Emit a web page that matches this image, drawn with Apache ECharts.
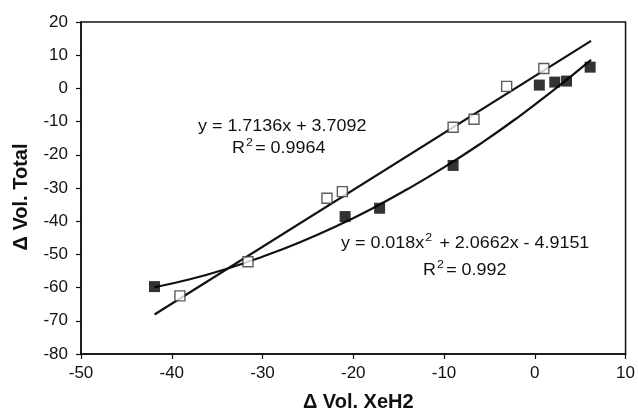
<!DOCTYPE html>
<html><head><meta charset="utf-8">
<script src="https://cdn.jsdelivr.net/npm/echarts@6/dist/echarts.min.js"></script>
<style>html,body{margin:0;padding:0;background:#fff}#c{width:638px;height:417px}</style>
</head><body><div id="c"></div>
<script>
// Open squares series
const openX = [-39.1, -31.6, -22.9, -21.2, -9.0, -6.7, -3.1, 1.0];
const openY = [-62.5, -52.2, -33.1, -31.1, -11.7, -9.3, 0.6, 6.0];
// Filled squares series
const filledX = [-41.9, -20.9, -17.1, -9.0, 0.5, 2.2, 3.5, 6.1];
const filledY = [-59.7, -38.6, -36.1, -23.2, 1.0, 1.9, 2.2, 6.4];
// Linear trendline (endpoints as drawn)
const linX = [-41.9, 6.2];
const linY = [-68.1, 14.3];
// Polynomial trendline
const polyX = [-41.9, -38, -34, -30, -26, -22, -18, -14, -10, -6, -2, 2, 6.2];
const polyY = [-59.9, -57.5, -54.4, -50.7, -46.5, -41.7, -36.3, -30.3, -23.8, -16.7, -9.0, -0.7, 8.6];
// Axis ticks
const xTicks = [-50, -40, -30, -20, -10, 0, 10];
const yTicks = [-80, -70, -60, -50, -40, -30, -20, -10, 0, 10, 20];

const zip = (a, b) => a.map((v, i) => [v, b[i]]);
const font = '"Liberation Sans", Arial, sans-serif';
const rich = {
  n: {font: '16px ' + font, fill: '#111', lineHeight: 20, verticalAlign: 'bottom'},
  s: {font: '11px ' + font, fill: '#111', lineHeight: 20, verticalAlign: 'top', padding: [0, 2, 0, 1]}
};
const chart = echarts.init(document.getElementById('c'), null, {renderer: 'canvas'});
chart.setOption({
  animation: false,
  backgroundColor: '#fff',
  grid: {left: 81, top: 22, right: 8, bottom: 60, show: true, borderColor: '#111', borderWidth: 1.5, backgroundColor: 'transparent'},
  xAxis: {
    type: 'value', min: xTicks[0], max: xTicks[xTicks.length - 1], interval: 10,
    name: '\u0394 Vol. XeH2', nameLocation: 'middle', nameGap: 38,
    nameTextStyle: {fontFamily: font, fontWeight: 'bold', fontSize: 20, color: '#111', padding: [0, 0, 0, 10]},
    axisLine: {onZero: false, lineStyle: {color: '#111', width: 1.5}},
    axisTick: {show: true, length: 5, lineStyle: {color: '#111', width: 1.2}},
    axisLabel: {fontFamily: font, fontSize: 17, color: '#111', margin: 11},
    splitLine: {show: false}
  },
  yAxis: {
    type: 'value', min: yTicks[0], max: yTicks[yTicks.length - 1], interval: 10,
    name: '\u0394 Vol. Total', nameLocation: 'middle', nameGap: 50,
    nameTextStyle: {fontFamily: font, fontWeight: 'bold', fontSize: 20, color: '#111', padding: [0, 18, 0, 0]},
    axisLine: {onZero: false, lineStyle: {color: '#111', width: 1.5}},
    axisTick: {show: true, length: 5, lineStyle: {color: '#111', width: 1.2}},
    axisLabel: {fontFamily: font, fontSize: 17, color: '#111', margin: 13},
    splitLine: {show: false}
  },
  series: [
    {type: 'line', data: zip(linX, linY), showSymbol: false, symbol: 'none', lineStyle: {color: '#111', width: 2.2}, z: 2},
    {type: 'line', data: zip(polyX, polyY), smooth: true, showSymbol: false, symbol: 'none', lineStyle: {color: '#111', width: 2.2}, z: 2},
    {type: 'scatter', data: zip(openX, openY), symbol: 'rect', symbolSize: 10, itemStyle: {color: '#fff', borderColor: '#333', borderWidth: 1.4}, z: 3},
    {type: 'scatter', data: zip(filledX, filledY), symbol: 'rect', symbolSize: 11, itemStyle: {color: '#000'}, z: 3}
  ],
  graphic: [
    {type: 'text', x: 198, y: 119, scaleX: 1.12, style: {text: 'y = 1.7136x + 3.7092', font: '16px ' + font, fill: '#111'}},
    {type: 'text', x: 232, y: 137, scaleX: 1.12, style: {rich: rich, text: '{n|R}{s|2}{n|= 0.9964}'}},
    {type: 'text', x: 341, y: 232, scaleX: 1.12, style: {rich: rich, text: '{n|y = 0.018x}{s|2}{n| + 2.0662x - 4.9151}'}},
    {type: 'text', x: 423, y: 259, scaleX: 1.12, style: {rich: rich, text: '{n|R}{s|2}{n|= 0.992}'}}
  ]
});
</script></body></html>
